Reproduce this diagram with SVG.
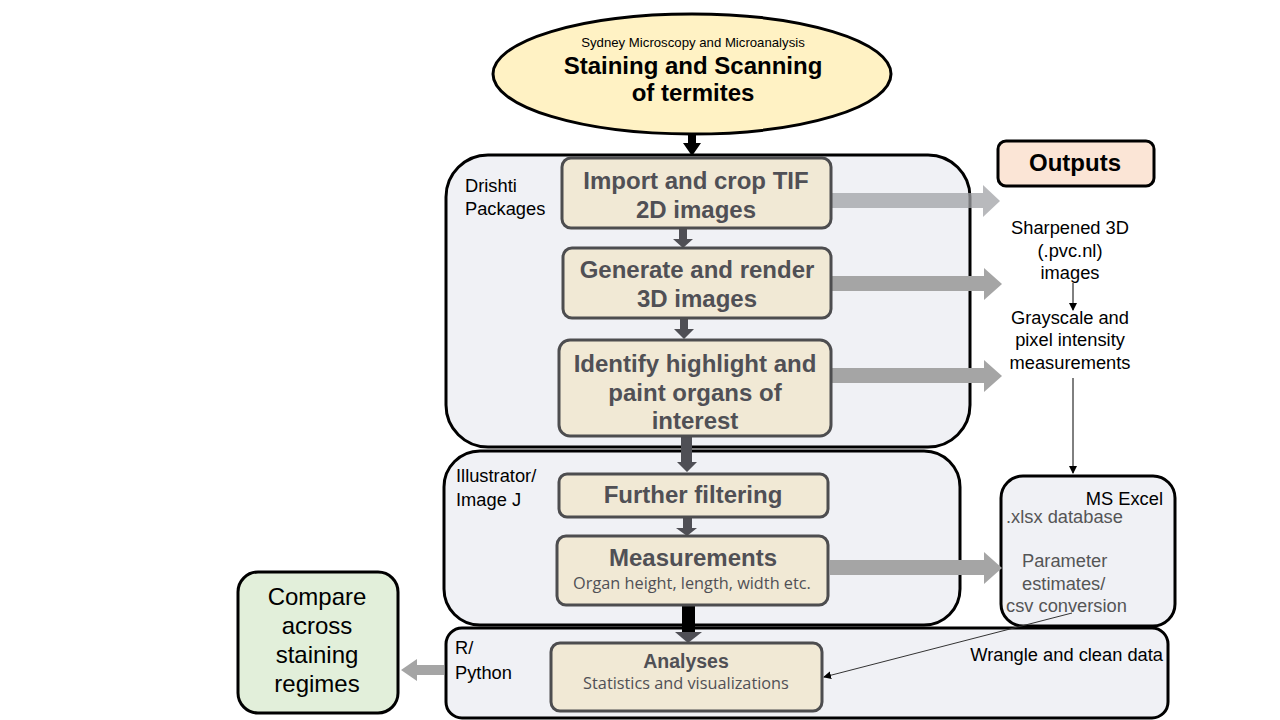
<svg xmlns="http://www.w3.org/2000/svg" width="1280" height="720" viewBox="0 0 1280 720">
<style>
.cont{fill:#f0f1f5;stroke:#000;stroke-width:3}
.step{fill:#f1e9d5;stroke:#4d4d4f;stroke-width:3}
.st{font-family:"Liberation Sans",Arial,sans-serif;font-weight:bold;fill:#505055;text-anchor:middle}
.sub{font-family:"Open Sans","Liberation Sans",sans-serif;fill:#505055;text-anchor:middle;font-size:16.3px}
.lab{font-family:"Liberation Sans",Arial,sans-serif;font-size:18.3px;fill:#000}
.out{font-family:"Liberation Sans",Arial,sans-serif;font-size:18.3px;fill:#000;text-anchor:middle}
.gry{font-family:"Liberation Sans",Arial,sans-serif;font-size:18.3px;fill:#555}
.big{font-family:"Liberation Sans",Arial,sans-serif;font-size:24px;fill:#000;text-anchor:middle}
.darr{fill:#4f4f55}
.garr{fill:#a5a5a5}
</style>
<defs>
<marker id="tip" markerWidth="8" markerHeight="8" refX="7" refY="4" orient="auto" markerUnits="userSpaceOnUse">
<path d="M0,0 L8,4 L0,8 Z" fill="#000"/>
</marker>
</defs>

<g id="source">
<ellipse cx="692" cy="74" rx="199" ry="60" fill="#fff2c4" stroke="#000" stroke-width="3"/>
<text x="693" y="47" text-anchor="middle" font-family="Liberation Sans,Arial,sans-serif" font-size="13.2">Sydney Microscopy and Microanalysis</text>
<text x="693" y="74" text-anchor="middle" font-family="Liberation Sans,Arial,sans-serif" font-size="24" font-weight="bold">Staining and Scanning</text>
<text x="693" y="101" text-anchor="middle" font-family="Liberation Sans,Arial,sans-serif" font-size="24" font-weight="bold">of termites</text>
</g>

<g id="drishti">
<rect class="cont" x="446" y="155" width="524" height="292" rx="42"/>
<text class="lab" x="465" y="192">Drishti</text>
<text class="lab" x="465" y="215">Packages</text>
</g>

<g id="illustrator">
<rect class="cont" x="444" y="451" width="516" height="174" rx="36"/>
<text class="lab" x="456" y="482">Illustrator/</text>
<text class="lab" x="456" y="506">Image J</text>
</g>

<g id="rpython">
<rect class="cont" x="446" y="628" width="722" height="90" rx="16"/>
<text class="lab" x="455" y="654">R/</text>
<text class="lab" x="455" y="679">Python</text>
<text class="lab" x="1163" y="661" text-anchor="end">Wrangle and clean data</text>
</g>

<g id="excel">
<rect class="cont" x="1001" y="476" width="174" height="150" rx="22"/>
<text class="lab" x="1163" y="505" text-anchor="end">MS Excel</text>
<text class="gry" x="1006" y="523">.xlsx database</text>
<text class="gry" x="1022" y="567">Parameter</text>
<text class="gry" x="1022" y="590">estimates/</text>
<text class="gry" x="1006" y="612">csv conversion</text>
</g>

<g id="outputs">
<rect x="998" y="141" width="156" height="45" rx="8" fill="#fbe5d6" stroke="#000" stroke-width="3"/>
<text x="1075" y="171" text-anchor="middle" font-family="Liberation Sans,Arial,sans-serif" font-size="24" font-weight="bold">Outputs</text>
</g>

<g id="out-sharpened">
<text class="out" x="1070" y="234">Sharpened 3D</text>
<text class="out" x="1070" y="257">(.pvc.nl)</text>
<text class="out" x="1070" y="279">images</text>
</g>

<g id="out-grayscale">
<text class="out" x="1070" y="324">Grayscale and</text>
<text class="out" x="1070" y="346">pixel intensity</text>
<text class="out" x="1070" y="369">measurements</text>
</g>

<g id="compare">
<rect x="238" y="572" width="160" height="141" rx="20" fill="#e2efda" stroke="#000" stroke-width="3"/>
<text class="big" x="317" y="605">Compare</text>
<text class="big" x="317" y="634">across</text>
<text class="big" x="317" y="663">staining</text>
<text class="big" x="317" y="692">regimes</text>
</g>

<g id="connectors">
<path d="M688,134 H696 V143 H701 L692,156 L683,143 H688 Z" fill="#000"/>
<path class="darr" d="M679,229 H687 V239 H693 L683,248 L673,239 H679 Z"/>
<path class="darr" d="M680,318 H688 V329 H694 L684,339 L674,329 H680 Z"/>
<path class="darr" d="M681,436 H692 V462 H697 L687,472 L677,462 H681 Z"/>
<path class="darr" d="M683,517 H692 V528 H697 L687,536 L676,528 H683 Z"/>
<path d="M682,605 H695 V633 H682 Z" fill="#000"/>
<path class="darr" d="M675,632 H702 L688,643 Z"/>
<path d="M832,193 H983 V185 L1000,201 L983,217 V208 H832 Z" fill="#a0a2a6" fill-opacity="0.75"/>
<path class="garr" d="M832,276 H984 V268 L1002,284 L984,300 V291 H832 Z"/>
<path class="garr" d="M832,368 H984 V360 L1002,376 L984,392 V383 H832 Z"/>
<path class="garr" d="M830,560 H984 V552 L1002,568 L984,584 V575 H830 Z"/>
<path class="garr" d="M444,665 H417 V659 L401,670 L417,681 V675 H444 Z"/>
<line x1="1073" y1="283" x2="1073" y2="310" stroke="#000" stroke-width="1" marker-end="url(#tip)"/>
<line x1="1073" y1="378" x2="1073" y2="473" stroke="#000" stroke-width="1" marker-end="url(#tip)"/>
<line x1="1072" y1="613" x2="824" y2="677" stroke="#333" stroke-width="1" marker-end="url(#tip)"/>
</g>

<g id="step-import">
<rect class="step" x="562" y="158" width="269" height="70" rx="9"/>
<text class="st" x="696" y="189" font-size="24">Import and crop TIF</text>
<text class="st" x="696" y="218" font-size="24">2D images</text>
</g>

<g id="step-generate">
<rect class="step" x="563" y="248" width="268" height="70" rx="9"/>
<text class="st" x="697" y="278" font-size="24">Generate and render</text>
<text class="st" x="697" y="307" font-size="24">3D images</text>
</g>

<g id="step-identify">
<rect class="step" x="559" y="340" width="272" height="96" rx="11"/>
<text class="st" x="695" y="372" font-size="24">Identify highlight and</text>
<text class="st" x="695" y="401" font-size="24">paint organs of</text>
<text class="st" x="695" y="429" font-size="24">interest</text>
</g>

<g id="step-filter">
<rect class="step" x="559" y="474" width="269" height="43" rx="8"/>
<text class="st" x="693" y="503" font-size="24">Further filtering</text>
</g>

<g id="step-measure">
<rect class="step" x="557" y="536" width="271" height="69" rx="9"/>
<text class="st" x="693" y="566" font-size="24">Measurements</text>
<text class="sub" x="692" y="589">Organ height, length, width etc.</text>
</g>

<g id="step-analyses">
<rect class="step" x="551" y="643" width="271" height="68" rx="9"/>
<text class="st" x="686" y="668" font-size="19.5">Analyses</text>
<text class="sub" x="686" y="689">Statistics and visualizations</text>
</g>
</svg>
